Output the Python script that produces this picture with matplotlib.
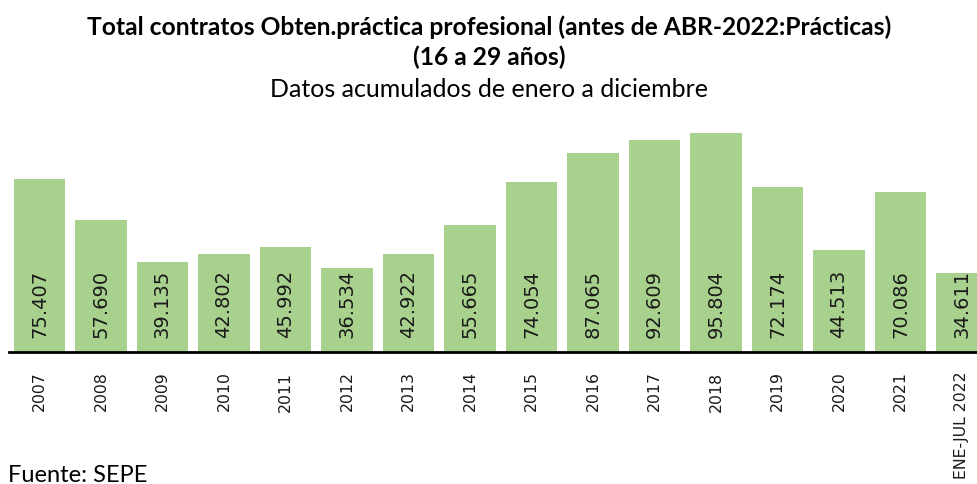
import matplotlib
matplotlib.use("Agg")
import matplotlib.pyplot as plt
import numpy as np

categorias = ["2007", "2008", "2009", "2010", "2011", "2012", "2013", "2014",
              "2015", "2016", "2017", "2018", "2019", "2020", "2021", "ENE-JUL 2022"]
contratos = [75407, 57690, 39135, 42802, 45992, 36534, 42922, 55665,
             74054, 87065, 92609, 95804, 72174, 44513, 70086, 34611]
etiquetas = ["75.407", "57.690", "39.135", "42.802", "45.992", "36.534", "42.922", "55.665",
             "74.054", "87.065", "92.609", "95.804", "72.174", "44.513", "70.086", "34.611"]

plt.rcParams['font.family'] = ['Lato', 'DejaVu Sans']

W, H = 978, 484
fig = plt.figure(figsize=(W / 100, H / 100), dpi=100)

# ejes: la ultima barra queda cortada por el borde derecho, como en el original
paso = 61.5
izq = 39.5 - paso / 2
base = 352
alto = 229  # px para 100.000
ax = fig.add_axes([izq / W, (H - base) / H, 16 * paso / W, alto / H])

x = np.arange(len(categorias))
ax.bar(x, contratos, width=0.845, color="#a9d18e")
for xi, t in zip(x, etiquetas):
    ax.text(xi, 6200, t, rotation=90, ha="center", va="bottom",
            fontsize=14, color="#1a1a1a", family=['DejaVu Sans'])

ax.set_xlim(-0.5, 15.5)
ax.set_ylim(0, 100000)
ax.set_xticks(x)
ax.set_xticklabels(categorias, rotation=90, fontsize=11.3, color="#1a1a1a",
                   family=['DejaVu Sans'])
ax.tick_params(axis="x", length=0, pad=14)
ax.set_yticks([])
for s in ["top", "right", "left"]:
    ax.spines[s].set_visible(False)
ax.spines["bottom"].set_linewidth(2)
ax.spines["bottom"].set_color("black")

fig.text(0.5, 1 - 27 / H, "Total contratos Obten.práctica profesional (antes de ABR-2022:Prácticas)",
         ha="center", va="center", fontsize=17.7, fontweight="bold")
fig.text(0.5, 1 - 57 / H, "(16 a 29 años)", ha="center", va="center",
         fontsize=17.7, fontweight="bold")
fig.text(0.5, 1 - 90 / H, "Datos acumulados de enero a diciembre", ha="center",
         va="center", fontsize=18)
fig.text(8 / W, 1 - 475 / H, "Fuente: SEPE", ha="left", va="center", fontsize=17)

fig.savefig("out.png", dpi=100)
